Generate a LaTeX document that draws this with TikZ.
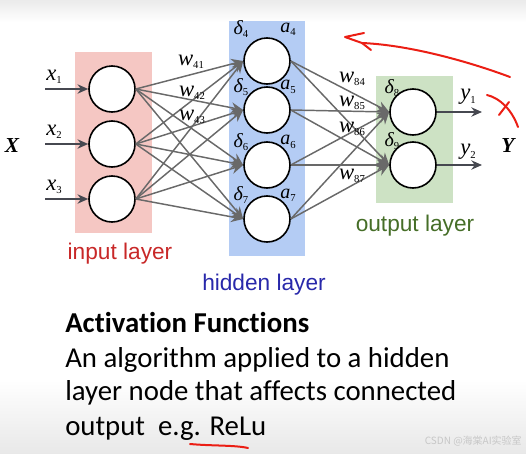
\documentclass[tikz,border=0pt]{standalone}
\usepackage{fontspec}
\setmainfont{Liberation Serif}
\newfontfamily\lsans{Liberation Sans}
\newfontfamily\calib[Ligatures=NoCommon]{Carlito}
\newfontfamily\cjkf{Noto Sans CJK SC}
\usetikzlibrary{arrows.meta}
\definecolor{pinkbg}{RGB}{245,199,195}
\definecolor{bluebg}{RGB}{180,204,244}
\definecolor{greenbg}{RGB}{205,226,196}
\definecolor{connc}{RGB}{105,105,105}
\definecolor{inarr}{RGB}{70,72,80}
\definecolor{redlab}{RGB}{200,40,40}
\definecolor{bluelab}{RGB}{40,40,170}
\definecolor{greenlab}{RGB}{70,110,40}
\definecolor{pen}{RGB}{235,30,20}
\newcommand\nnlab[3]{{\fontsize{#3}{#3}\selectfont\itshape #1}\raisebox{-2.5pt}{\fontsize{8}{8}\selectfont #2}}
\begin{document}
\begin{tikzpicture}[x=0.75pt,y=-0.75pt,
  neuron/.style={circle,draw=black,line width=1.2pt,fill=white,minimum size=34.5pt,inner sep=0pt},
  conn/.style={draw=connc,line width=1.1pt,-{Stealth[length=9pt,width=8pt]}},
  ioarr/.style={draw=inarr,line width=1.1pt,-{Stealth[length=8pt,width=7pt]}},
  lab/.style={inner sep=0pt},
  layerlab/.style={inner sep=0pt,font=\lsans\fontsize{17}{17}\selectfont},
  body/.style={inner sep=0pt,anchor=base west,font=\calib\fontsize{21.6}{21.6}\selectfont},
  redpen/.style={draw=pen,line width=1.5pt,line cap=round,line join=round}]
\useasboundingbox (0,0) rectangle (526,454);
\shade[top color=black!8,bottom color=white] (0,0) rectangle (526,22);
\shade[top color=white,bottom color=black!9] (0,380) rectangle (526,454);
% layer backgrounds
\fill[pinkbg] (75,52) rectangle (152,233);
\fill[bluebg] (229,21) rectangle (305,256);
\fill[greenbg] (376,76) rectangle (453,203);
% neurons
\node[neuron] (i1) at (112,89) {};
\node[neuron] (i2) at (112,144) {};
\node[neuron] (i3) at (112,199) {};
\node[neuron] (h4) at (267,61) {};
\node[neuron] (h5) at (267,110) {};
\node[neuron] (h6) at (267,165) {};
\node[neuron] (h7) at (267,219) {};
\node[neuron] (o8) at (413,112) {};
\node[neuron] (o9) at (413,165) {};
% connections
\foreach \i in {i1,i2,i3}{\foreach \h in {h4,h5,h6,h7}{\draw[conn] (\i.east) -- (\h.west);}}
\foreach \h in {h4,h5,h6,h7}{\foreach \o in {o8,o9}{\draw[conn] (\h.east) -- (\o.west);}}
% inputs / outputs
\coordinate (s1) at (45,89);
\coordinate (s2) at (45,144);
\coordinate (s3) at (45,199);
\coordinate (e1) at (482,112);
\coordinate (e2) at (482,165);
\draw[ioarr] (s1) -- (i1.west);
\draw[ioarr] (s2) -- (i2.west);
\draw[ioarr] (s3) -- (i3.west);
\draw[ioarr] (o8.east) -- (e1);
\draw[ioarr] (o9.east) -- (e2);
% labels
\node[lab] (lx1) at (54,77) {\nnlab{x}{1}{17}};
\node[lab] (lx2) at (54,132) {\nnlab{x}{2}{17}};
\node[lab] (lx3) at (54,187) {\nnlab{x}{3}{17}};
\node[lab] (lX) at (12,146) {\fontsize{16}{16}\selectfont\bfseries\itshape X};
\node[lab] (lY) at (508,146) {\fontsize{16}{16}\selectfont\bfseries\itshape Y};
\node[lab] (ly1) at (468,97) {\nnlab{y}{1}{17}};
\node[lab] (ly2) at (468,152) {\nnlab{y}{2}{17}};
\node[lab] (d4) at (241,29) {\nnlab{δ}{4}{15}};
\node[lab] (d5) at (241,87) {\nnlab{δ}{5}{15}};
\node[lab] (d6) at (241,142) {\nnlab{δ}{6}{15}};
\node[lab] (d7) at (241,195) {\nnlab{δ}{7}{15}};
\node[lab] (a4) at (288,29) {\nnlab{a}{4}{15}};
\node[lab] (a5) at (288,87) {\nnlab{a}{5}{15}};
\node[lab] (a6) at (288,142) {\nnlab{a}{6}{15}};
\node[lab] (a7) at (288,195) {\nnlab{a}{7}{15}};
\node[lab] (d8) at (392,88) {\nnlab{δ}{8}{15}};
\node[lab] (d9) at (392,141) {\nnlab{δ}{9}{15}};
\node[lab] (w41) at (191,62) {\nnlab{w}{41}{17}};
\node[lab] (w42) at (192,93) {\nnlab{w}{42}{17}};
\node[lab] (w43) at (192,117) {\nnlab{w}{43}{17}};
\node[lab] (w84) at (352,79) {\nnlab{w}{84}{17}};
\node[lab] (w85) at (352,103) {\nnlab{w}{85}{17}};
\node[lab] (w86) at (352,129) {\nnlab{w}{86}{17}};
\node[lab] (w87) at (352,176) {\nnlab{w}{87}{17}};
% layer names
\node[layerlab,text=redlab] (tin) at (120,254) {input layer};
\node[layerlab,text=bluelab] (thid) at (264,285) {hidden layer};
\node[layerlab,text=greenlab] (tout) at (415,226) {output layer};
% body text
\node[body] (t0) at (65,332) {\bfseries Activation Functions};
\node[body] (t1) at (65,367) {An algorithm applied to a hidden};
\node[body] (t2) at (65,400) {layer node that affects connected};
\node[body] (t3) at (65,435) {output\ \ e.g. ReLu};
\node[inner sep=0pt,anchor=base east,text=black!22,font=\cjkf\fontsize{7.5}{7.5}\selectfont] (wm) at (522,444) {CSDN @海棠AI实验室};
% red pen annotations
\draw[redpen] (510,77) .. controls (470,62) and (410,45) .. (362,43) -- (345,37) -- (364,33);
\draw[redpen] (362,43) -- (371,50);
\draw[redpen] (487,95) .. controls (500,98) and (512,110) .. (518,127);
\draw[redpen] (499,115) -- (509,102);
\draw[redpen] (190,444) .. controls (212,446) and (235,445) .. (248,448);
\end{tikzpicture}
\end{document}
